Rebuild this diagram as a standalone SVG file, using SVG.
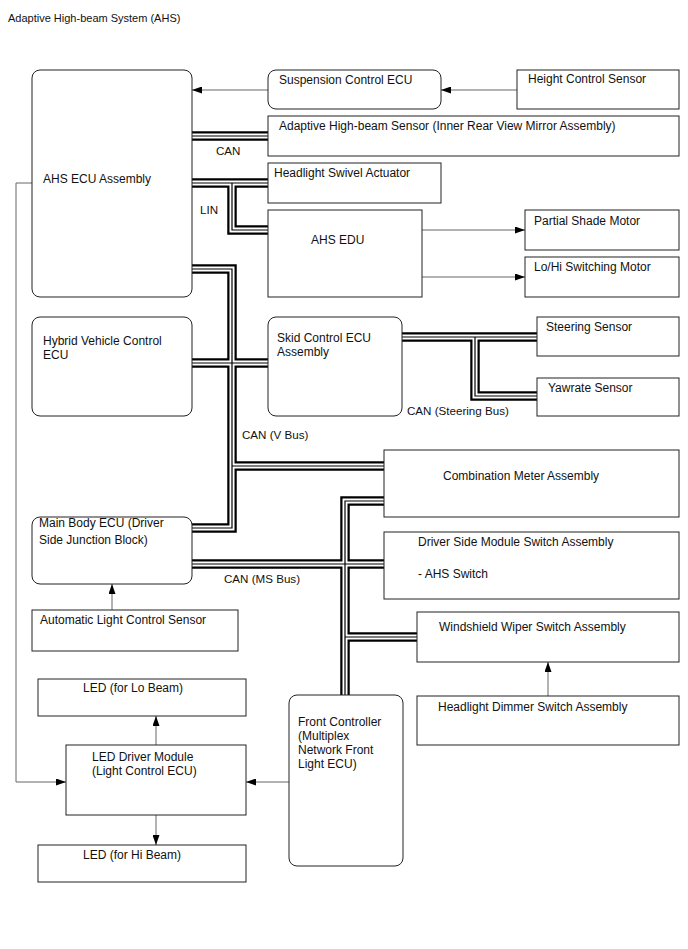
<svg xmlns="http://www.w3.org/2000/svg" xmlns:xlink="http://www.w3.org/1999/xlink" width="688" height="949" viewBox="0 0 688 949">
<style>
text{font-family:"Liberation Sans",Arial,sans-serif;font-size:12px;fill:#111}
text.t{font-size:11px}
text.lb{font-size:11.6px}
.box{fill:#fff;stroke:#222;stroke-width:1}
.arr{fill:none;stroke:#666;stroke-width:1;marker-end:url(#ah)}
.bo{fill:none;stroke:#000;stroke-width:9.5;stroke-linejoin:miter}
.bw{fill:none;stroke:#fff;stroke-width:5;stroke-linejoin:miter}
.bi{fill:none;stroke:#000;stroke-width:1.2;stroke-linejoin:miter}
</style>
<defs>
<marker id="ah" markerUnits="userSpaceOnUse" markerWidth="10" markerHeight="7" refX="10" refY="3.5" orient="auto">
<path d="M0,0 L10,3.5 L0,7 z" fill="#000"/>
</marker>
<path id="bus" d="M192,136 H268 M192,183 H268 M232,183 V230 H268 M192,269 H232 V528 H192 M192,363 H268 M232,466 H384 M402,337 H537 M475,337 V396 H537 M192,564 H384 M384,501 H345 V695 M345,637 H417"/>
</defs>
<rect width="688" height="949" fill="#fff"/>
<text class="t" x="8" y="22">Adaptive High-beam System (AHS)</text>

<g id="connectors">
<use xlink:href="#bus" class="bo"/>
<use xlink:href="#bus" class="bw"/>
<use xlink:href="#bus" class="bi"/>
<path class="arr" d="M517,90 H441"/>
<path class="arr" d="M268,90 H192"/>
<path class="arr" d="M422,230 H525"/>
<path class="arr" d="M422,277 H525"/>
<path class="arr" d="M112,610 V584"/>
<path class="arr" d="M548,696 V662"/>
<path class="arr" d="M156,745 V716"/>
<path class="arr" d="M156,815 V845"/>
<path class="arr" d="M289,782 H246"/>
<path class="arr" d="M32,183 H16 V782 H66"/>
<text class="lb" x="216" y="155">CAN</text>
<text class="lb" x="200" y="214">LIN</text>
<text class="lb" x="407" y="415">CAN (Steering Bus)</text>
<text class="lb" x="242" y="439">CAN (V Bus)</text>
<text class="lb" x="224" y="583">CAN (MS Bus)</text>
</g>

<g id="ahs-ecu"><rect class="box" x="32" y="70" width="160" height="227" rx="8"/><text x="43" y="183">AHS ECU Assembly</text></g>
<g id="suspension-ecu"><rect class="box" x="268" y="70" width="173" height="39" rx="8"/><text x="279" y="84">Suspension Control ECU</text></g>
<g id="height-sensor"><rect class="box" x="517" y="70" width="162" height="39"/><text x="528" y="83">Height Control Sensor</text></g>
<g id="ahb-sensor"><rect class="box" x="268" y="116" width="411" height="40"/><text x="279" y="130">Adaptive High-beam Sensor (Inner Rear View Mirror Assembly)</text></g>
<g id="swivel"><rect class="box" x="268" y="163" width="173" height="40"/><text x="274" y="177">Headlight Swivel Actuator</text></g>
<g id="ahs-edu"><rect class="box" x="268" y="210" width="154" height="87"/><text x="311" y="244">AHS EDU</text></g>
<g id="partial-shade"><rect class="box" x="525" y="210" width="154" height="40"/><text x="534" y="225">Partial Shade Motor</text></g>
<g id="lohi-motor"><rect class="box" x="525" y="257" width="154" height="40"/><text x="534" y="271">Lo/Hi Switching Motor</text></g>
<g id="hybrid-ecu"><rect class="box" x="32" y="317" width="160" height="99" rx="8"/><text x="43" y="345">Hybrid Vehicle Control</text><text x="43" y="359">ECU</text></g>
<g id="skid-ecu"><rect class="box" x="268" y="317" width="134" height="99" rx="8"/><text x="277" y="342">Skid Control ECU</text><text x="277" y="356">Assembly</text></g>
<g id="steering-sensor"><rect class="box" x="537" y="317" width="142" height="39"/><text x="546" y="331">Steering Sensor</text></g>
<g id="yawrate-sensor"><rect class="box" x="537" y="378" width="142" height="38"/><text x="548" y="392">Yawrate Sensor</text></g>
<g id="combination-meter"><rect class="box" x="384" y="450" width="295" height="67"/><text x="443" y="480">Combination Meter Assembly</text></g>
<g id="driver-switch"><rect class="box" x="384" y="532" width="295" height="67"/><text x="418" y="546">Driver Side Module Switch Assembly</text><text x="418" y="578">- AHS Switch</text></g>
<g id="main-body-ecu"><rect class="box" x="32" y="517" width="160" height="67" rx="8"/><text x="39" y="527">Main Body ECU (Driver</text><text x="39" y="544">Side Junction Block)</text></g>
<g id="auto-light-sensor"><rect class="box" x="32" y="610" width="206" height="41"/><text x="40" y="624">Automatic Light Control Sensor</text></g>
<g id="wiper-switch"><rect class="box" x="417" y="612" width="262" height="50"/><text x="439" y="631">Windshield Wiper Switch Assembly</text></g>
<g id="dimmer-switch"><rect class="box" x="417" y="696" width="262" height="49"/><text x="438" y="711">Headlight Dimmer Switch Assembly</text></g>
<g id="front-controller"><rect class="box" x="289" y="695" width="114" height="171" rx="8"/><text x="298" y="726">Front Controller</text><text x="298" y="740">(Multiplex</text><text x="298" y="754">Network Front</text><text x="298" y="768">Light ECU)</text></g>
<g id="led-lo"><rect class="box" x="38" y="679" width="208" height="37"/><text x="83" y="692">LED (for Lo Beam)</text></g>
<g id="led-driver"><rect class="box" x="66" y="745" width="180" height="70"/><text x="92" y="761">LED Driver Module</text><text x="92" y="775">(Light Control ECU)</text></g>
<g id="led-hi"><rect class="box" x="38" y="845" width="208" height="37"/><text x="83" y="859">LED (for Hi Beam)</text></g>
</svg>
